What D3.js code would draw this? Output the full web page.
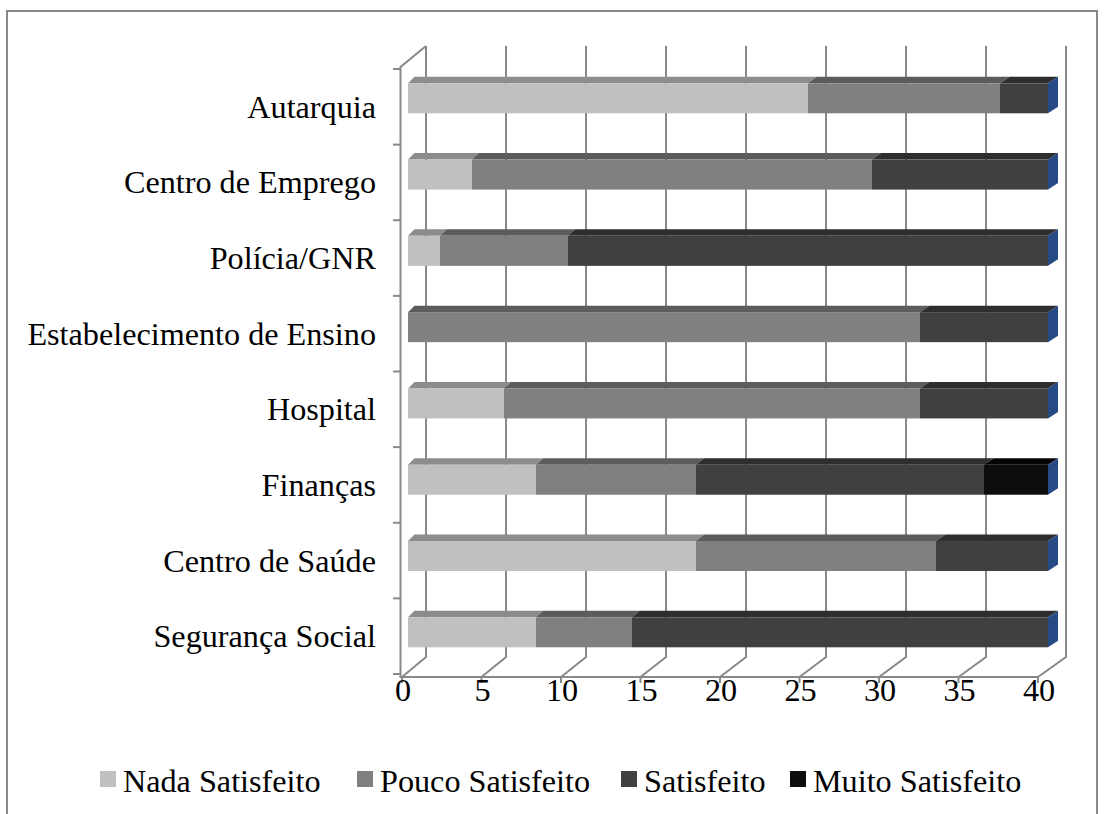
<!DOCTYPE html>
<html>
<head>
<meta charset="utf-8">
<script src="https://cdn.jsdelivr.net/npm/d3@7/dist/d3.min.js"></script>
<style>
  html, body { margin: 0; padding: 0; background: #fff; }
  svg { display: block; }
  text { font-family: "Liberation Serif", "Times New Roman", serif; fill: #000; }
</style>
</head>
<body>
<svg id="chart" width="1106" height="814"></svg>
<script>
// ---- data ----
const categories = ["Autarquia", "Centro de Emprego", "Polícia/GNR", "Estabelecimento de Ensino",
                    "Hospital", "Finanças", "Centro de Saúde", "Segurança Social"];
const seriesNames = ["Nada Satisfeito", "Pouco Satisfeito", "Satisfeito", "Muito Satisfeito"];
const nadaSatisfeito  = [25, 4, 2, 0, 6, 8, 18, 8];
const poucoSatisfeito = [12, 25, 8, 32, 26, 10, 15, 6];
const satisfeito      = [3, 11, 30, 8, 8, 18, 7, 26];
const muitoSatisfeito = [0, 0, 0, 0, 0, 4, 0, 0];
const xTicks = [0, 5, 10, 15, 20, 25, 30, 35, 40];

const seriesValues = [nadaSatisfeito, poucoSatisfeito, satisfeito, muitoSatisfeito];
const frontColors = ["#c0c0c0", "#808080", "#404040", "#0d0d0d"];
const topColors   = ["#8c8c8c", "#5c5c5c", "#2e2e2e", "#050505"];
const endColor = "#264a84";
const gridColor = "#898989";

const svg = d3.select("#chart");

// outer border
svg.append("rect").attr("x", 7).attr("y", 11).attr("width", 1090).attr("height", 820)
  .attr("fill", "none").attr("stroke", gridColor).attr("stroke-width", 2);

// ---- scales ----
const xFront = d3.scaleLinear().domain([0, 40]).range([402, 1038]);   // floor front edge
const xBack  = d3.scaleLinear().domain([0, 40]).range([426, 1066]);   // back wall
const xBarF  = d3.scaleLinear().domain([0, 40]).range([408, 1048]);   // bar front face
const xBarB  = d3.scaleLinear().domain([0, 40]).range([414.5, 1058]); // bar back edge
const yAxis  = d3.scaleBand().domain(categories).range([69, 674]).padding(0);
const yBar   = d3.scalePoint().domain(categories).range([83.3, 617.3]);
const frontH = 30, topH = 6.5;
const wallTop = 46, wallBottom = 657, floorFront = 677, leftTop = 67;

const g = svg.append("g");

// back wall gridlines + floor diagonals
xTicks.forEach(t => {
  g.append("path")
    .attr("d", `M${xBack(t)},${wallTop} L${xBack(t)},${wallBottom} L${xFront(t)},${floorFront}`)
    .attr("fill", "none").attr("stroke", gridColor).attr("stroke-width", 2);
});
// left side wall: front-left vertical and top diagonal
g.append("path")
  .attr("d", `M${xBack(0)},${wallTop} L${xFront(0) - 1.5},${leftTop} L${xFront(0) - 1.5},${floorFront}`)
  .attr("fill", "none").attr("stroke", gridColor).attr("stroke-width", 2);
// floor front edge
g.append("line")
  .attr("x1", xFront(0) - 2.5).attr("x2", xFront(40)).attr("y1", floorFront).attr("y2", floorFront)
  .attr("stroke", gridColor).attr("stroke-width", 2);

// left axis ticks (band boundaries)
const yTickPos = categories.map(c => yAxis(c)).concat([yAxis.range()[1]]);
yTickPos.forEach(y => {
  g.append("line").attr("x1", 393).attr("x2", xFront(0) - 1.5).attr("y1", y).attr("y2", y)
    .attr("stroke", gridColor).attr("stroke-width", 2);
});
// bottom axis ticks
xTicks.forEach(t => {
  g.append("line").attr("x1", xFront(t)).attr("x2", xFront(t)).attr("y1", floorFront).attr("y2", floorFront + 6)
    .attr("stroke", gridColor).attr("stroke-width", 2);
});

// ---- bars ----
const stackData = categories.map((c, i) => {
  const obj = { cat: c };
  seriesNames.forEach((s, k) => obj[s] = seriesValues[k][i]);
  return obj;
});
const stacked = d3.stack().keys(seriesNames)(stackData);

const bars = svg.append("g");
categories.forEach((c, i) => {
  const yT = yBar(c);
  stacked.forEach((layer, k) => {
    const [a, b] = layer[i];
    if (b - a <= 0) return;
    // top face
    bars.append("path")
      .attr("d", `M${xBarF(a)},${yT} L${xBarF(b)},${yT} L${xBarB(b)},${yT - topH} L${xBarB(a)},${yT - topH} Z`)
      .attr("fill", topColors[k]);
    // front face
    bars.append("rect")
      .attr("x", xBarF(a)).attr("y", yT)
      .attr("width", xBarF(b) - xBarF(a)).attr("height", frontH)
      .attr("fill", frontColors[k]);
  });
  // right end face
  const tot = d3.sum(seriesValues, s => s[i]);
  bars.append("path")
    .attr("d", `M${xBarF(tot)},${yT} L${xBarB(tot)},${yT - topH} L${xBarB(tot)},${yT + frontH - topH} L${xBarF(tot)},${yT + frontH} Z`)
    .attr("fill", endColor);
});

// ---- category labels ----
const fs = 32.2;
svg.append("g").selectAll("text").data(categories).join("text")
  .attr("x", 376)
  .attr("y", c => yAxis(c) + yAxis.bandwidth() / 2 + 11)
  .attr("text-anchor", "end")
  .attr("font-size", fs)
  .text(c => c);

// ---- x tick labels ----
svg.append("g").selectAll("text").data(xTicks).join("text")
  .attr("x", t => xFront(t) + 1)
  .attr("y", 701)
  .attr("text-anchor", "middle")
  .attr("font-size", fs)
  .text(t => t);

// ---- legend ----
const legendX = [100, 357, 621, 790];
const legend = svg.append("g");
seriesNames.forEach((s, k) => {
  legend.append("rect").attr("x", legendX[k]).attr("y", 771).attr("width", 16).attr("height", 16)
    .attr("fill", frontColors[k]);
  legend.append("text").attr("x", legendX[k] + 23).attr("y", 792)
    .attr("font-size", fs).text(s);
});
</script>
</body>
</html>
